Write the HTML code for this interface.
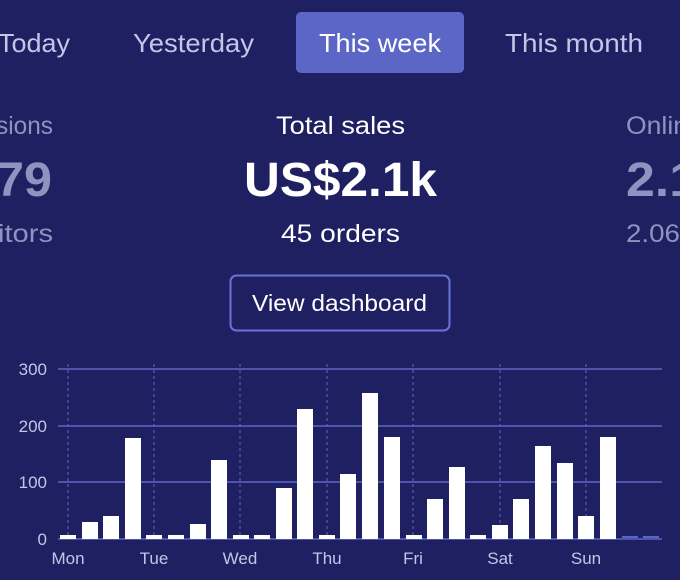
<!DOCTYPE html>
<html><head><meta charset="utf-8"><style>
html,body{margin:0;padding:0;background:#1e2062;}
svg{display:block}
text{font-family:"Liberation Sans",sans-serif}
</style></head><body>
<svg width="680" height="580" viewBox="0 0 680 580" xmlns="http://www.w3.org/2000/svg">
<rect width="680" height="580" fill="#1e2062"/>
<rect x="296" y="12" width="168" height="61" rx="5" fill="#5b66c6"/>
<g font-size="26" fill="#c3c6e6" lengthAdjust="spacingAndGlyphs">
<text x="-2" y="52" textLength="72" lengthAdjust="spacingAndGlyphs">Today</text>
<text x="133" y="52" textLength="121" lengthAdjust="spacingAndGlyphs">Yesterday</text>
<text x="319" y="52" fill="#ffffff" textLength="122" lengthAdjust="spacingAndGlyphs">This week</text>
<text x="505" y="52" textLength="138" lengthAdjust="spacingAndGlyphs">This month</text>
</g>
<g font-size="25" fill="#8f93bf">
<text x="-4" y="134" textLength="57" lengthAdjust="spacingAndGlyphs">sions</text>
<text x="-2" y="242" textLength="55" lengthAdjust="spacingAndGlyphs">itors</text>
<text x="626" y="134" textLength="62" lengthAdjust="spacingAndGlyphs">Onlin</text>
<text x="626" y="242" textLength="54" lengthAdjust="spacingAndGlyphs">2.06</text>
</g>
<text x="-4" y="196" font-size="48" font-weight="bold" fill="#8f93bf" textLength="56" lengthAdjust="spacingAndGlyphs">79</text>
<text x="626" y="196" font-size="48" font-weight="bold" fill="#8f93bf" textLength="72" lengthAdjust="spacingAndGlyphs">2.1</text>
<text x="276" y="134" font-size="25" fill="#fff" textLength="129" lengthAdjust="spacingAndGlyphs">Total sales</text>
<text x="244" y="196" font-size="48" font-weight="bold" fill="#fff" textLength="193" lengthAdjust="spacingAndGlyphs">US$2.1k</text>
<text x="281" y="242" font-size="25" fill="#fff" textLength="119" lengthAdjust="spacingAndGlyphs">45 orders</text>
<rect x="230.5" y="275.5" width="219" height="55" rx="6" fill="none" stroke="#6a74d6" stroke-width="2"/>
<text x="252" y="311" font-size="23" fill="#fff" textLength="175" lengthAdjust="spacingAndGlyphs">View dashboard</text>
<g stroke="#5c66c8" stroke-width="1.5">
<line x1="58" y1="369" x2="662" y2="369"/>
<line x1="58" y1="426" x2="662" y2="426"/>
<line x1="58" y1="482" x2="662" y2="482"/>
<line x1="58" y1="539" x2="662" y2="539"/>
</g>
<g stroke="#5c66c8" stroke-width="1" stroke-dasharray="3,3">
<line x1="68" y1="364" x2="68" y2="539"/>
<line x1="154" y1="364" x2="154" y2="539"/>
<line x1="240" y1="364" x2="240" y2="539"/>
<line x1="327" y1="364" x2="327" y2="539"/>
<line x1="413" y1="364" x2="413" y2="539"/>
<line x1="500" y1="364" x2="500" y2="539"/>
<line x1="586" y1="364" x2="586" y2="539"/>
</g>
<g font-size="17" fill="#c3c6e6" text-anchor="end">
<text x="47" y="375">300</text>
<text x="47" y="432">200</text>
<text x="47" y="488">100</text>
<text x="47" y="545">0</text>
</g>
<g font-size="17" fill="#c3c6e6" text-anchor="middle">
<text x="68" y="564">Mon</text>
<text x="154" y="564">Tue</text>
<text x="240" y="564">Wed</text>
<text x="327" y="564">Thu</text>
<text x="413" y="564">Fri</text>
<text x="500" y="564">Sat</text>
<text x="586" y="564">Sun</text>
</g>
<g fill="#ffffff">
<rect x="60" y="535" width="16" height="4"/>
<rect x="82" y="522" width="16" height="17"/>
<rect x="103" y="516" width="16" height="23"/>
<rect x="125" y="438" width="16" height="101"/>
<rect x="146" y="535" width="16" height="4"/>
<rect x="168" y="535" width="16" height="4"/>
<rect x="190" y="524" width="16" height="15"/>
<rect x="211" y="460" width="16" height="79"/>
<rect x="233" y="535" width="16" height="4"/>
<rect x="254" y="535" width="16" height="4"/>
<rect x="276" y="488" width="16" height="51"/>
<rect x="297" y="409" width="16" height="130"/>
<rect x="319" y="535" width="16" height="4"/>
<rect x="340" y="474" width="16" height="65"/>
<rect x="362" y="393" width="16" height="146"/>
<rect x="384" y="437" width="16" height="102"/>
<rect x="406" y="535" width="16" height="4"/>
<rect x="427" y="499" width="16" height="40"/>
<rect x="449" y="467" width="16" height="72"/>
<rect x="470" y="535" width="16" height="4"/>
<rect x="492" y="525" width="16" height="14"/>
<rect x="513" y="499" width="16" height="40"/>
<rect x="535" y="446" width="16" height="93"/>
<rect x="557" y="463" width="16" height="76"/>
<rect x="578" y="516" width="16" height="23"/>
<rect x="600" y="437" width="16" height="102"/>
</g>
<rect x="622" y="536" width="16" height="2" fill="#5c66c8"/>
<rect x="643" y="536" width="16" height="2" fill="#5c66c8"/>
</svg>
</body></html>
